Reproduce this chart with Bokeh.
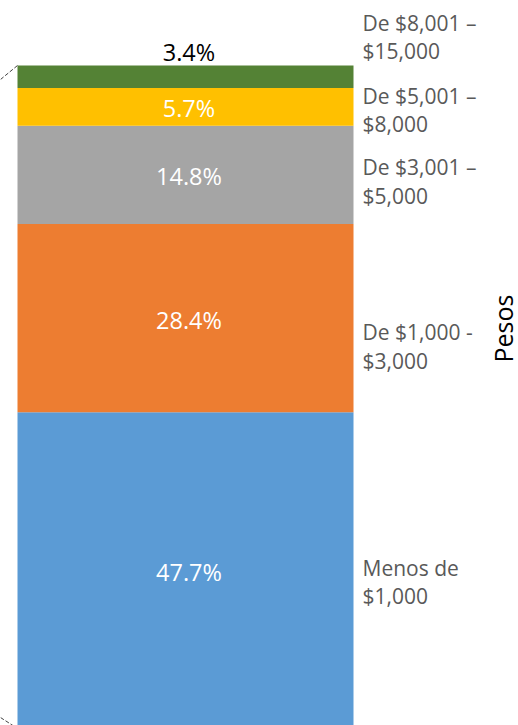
import math
from bokeh.plotting import figure
from bokeh.models import ColumnDataSource, Range1d, Label
from bokeh.core.properties import value
from bokeh.embed import file_html
from bokeh.resources import INLINE

# ---- data (bottom to top) ----
categories = ["Menos de\n$1,000", "De $1,000 -\n$3,000", "De $3,001 \u2013\n$5,000",
              "De $5,001 \u2013\n$8,000", "De $8,001 \u2013\n$15,000"]
values = [47.7, 28.4, 14.8, 5.7, 3.4]
pct_labels = ["47.7%", "28.4%", "14.8%", "5.7%", "3.4%"]
colors = ["#5B9BD5", "#ED7D31", "#A5A5A5", "#FFC000", "#548235"]
axis_title = "Pesos"

# ---- layout constants ----
W, H = 518, 725
BAR_LEFT_PX, BAR_W_PX = 17, 336      # canvas px
PX_PER_PCT = 6.63
ZERO_PX = 728                        # canvas y of 0 %

x0 = -BAR_LEFT_PX / BAR_W_PX
x1 = (W - BAR_LEFT_PX) / BAR_W_PX
y0 = (ZERO_PX - H) / PX_PER_PCT
y1 = y0 + H / PX_PER_PCT

bottoms, tops = [], []
acc = 0.0
for v in values:
    bottoms.append(acc)
    acc += v
    tops.append(acc)
mids = [(b + t) / 2 for b, t in zip(bottoms, tops)]

p = figure(width=W, height=H, output_backend="svg", toolbar_location=None,
           x_range=Range1d(x0, x1), y_range=Range1d(y0, y1),
           x_axis_location=None, y_axis_location=None, min_border=0)
p.grid.visible = False
p.outline_line_color = None
p.background_fill_color = "white"
p.border_fill_color = "white"

src = ColumnDataSource(dict(bottom=bottoms, top=tops, color=colors))
p.quad(left=0, right=1, bottom="bottom", top="top", fill_color="color",
       line_color=None, source=src)

px = lambda d: d / PX_PER_PCT

# percent labels
inside_n = len(values) - 1
lab_y = [mids[i] - px(1.5) for i in range(inside_n)] + [tops[-1] + px(13.5)]
lab_col = ["white"] * inside_n + ["black"]
p.text(x=[0.5 + 3.5 / BAR_W_PX] * len(values), y=lab_y, text=pct_labels,
       text_color=lab_col, text_font=value("Open Sans"), text_font_size="23.5px",
       text_align="center", text_baseline="middle")

# category labels on the right
cat_dy_px = [11.7, 28.6, 6.7, 3.0, -39.8]
cat_y = [m - px(d) for m, d in zip(mids, cat_dy_px)]
p.text(x=[(362 - BAR_LEFT_PX) / BAR_W_PX] * len(values), y=cat_y, text=categories,
       text_color="#595959", text_font=value("Open Sans"), text_font_size="21px",
       text_align="left", text_baseline="middle", text_line_height=1.02)

# dashed connector lines (bar-of-pie)
cx = -BAR_LEFT_PX / BAR_W_PX
p.line(x=[cx, 0], y=[tops[-1] - px(14), tops[-1]], line_color="#404040",
       line_width=1, line_dash="4 2")
p.line(x=[cx, 0], y=[bottoms[0] + px(11), bottoms[0]], line_color="#404040",
       line_width=1, line_dash="4 2")

p.add_layout(Label(x=502, y=H - 328, x_units="screen", y_units="screen",
                   text=axis_title, angle=math.pi / 2, text_align="center",
                   text_baseline="middle", text_font="Open Sans",
                   text_font_size="25px", text_color="black"))

open("out.html", "w").write(file_html(p, INLINE))
